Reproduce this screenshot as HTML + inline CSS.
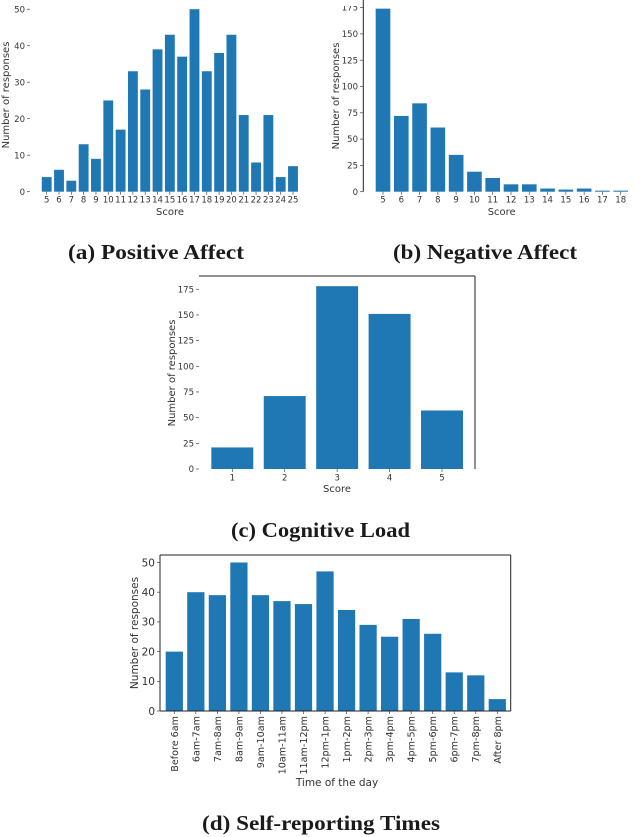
<!DOCTYPE html>
<html lang="en">
<head>
<meta charset="utf-8">
<title>Survey response histograms</title>
<style>
html,body{margin:0;padding:0;background:#fff;width:640px;height:837px;overflow:hidden}
svg{display:block;filter:blur(0.35px)}
.tick{font-family:"DejaVu Sans","Liberation Sans",sans-serif;fill:#333}
.cap{font-family:"Liberation Serif",serif;font-weight:bold;fill:#1a1a1a;text-anchor:middle}
</style>
</head>
<body>
<svg id="root" xmlns="http://www.w3.org/2000/svg" width="640" height="837" viewBox="0 0 640 837">
<defs>
<clipPath id="top-label-clip"><rect x="0" y="6" width="640" height="831"></rect></clipPath>
</defs>
<text class="cap" x="156" y="259" font-size="21" textLength="176" lengthAdjust="spacingAndGlyphs">(a) Positive Affect</text>
<text class="cap" x="485" y="259" font-size="21" textLength="184" lengthAdjust="spacingAndGlyphs">(b) Negative Affect</text>
<text class="cap" x="320.5" y="537" font-size="21" textLength="179" lengthAdjust="spacingAndGlyphs">(c) Cognitive Load</text>
<text class="cap" x="321" y="830" font-size="21" textLength="238" lengthAdjust="spacingAndGlyphs">(d) Self-reporting Times</text>
</svg>
<script>
var positiveCategories = ["5","6","7","8","9","10","11","12","13","14","15","16","17","18","19","20","21","22","23","24","25"];
var positiveValues = [4,6,3,13,9,25,17,33,28,39,43,37,50,33,38,43,21,8,21,4,7];
var positiveTicks = [0,10,20,30,40,50];

var negativeCategories = ["5","6","7","8","9","10","11","12","13","14","15","16","17","18"];
var negativeValues = [174,72,84,61,35,19,13,7,7,3,2,3,1,1];
var negativeTicks = [0,25,50,75,100,125,150,175];

var cognitiveCategories = ["1","2","3","4","5"];
var cognitiveValues = [21,71,178,151,57];
var cognitiveTicks = [0,25,50,75,100,125,150,175];

var timeCategories = ["Before 6am","6am-7am","7am-8am","8am-9am","9am-10am","10am-11am","11am-12pm","12pm-1pm","1pm-2pm","2pm-3pm","3pm-4pm","4pm-5pm","5pm-6pm","6pm-7pm","7pm-8pm","After 8pm"];
var timeValues = [20,40,39,50,39,37,36,47,34,29,25,31,26,13,12,4];
var timeTicks = [0,10,20,30,40,50];

var NS = "http://www.w3.org/2000/svg";
var root = document.getElementById("root");

function mk(parent, tag, attrs, text) {
  var el = document.createElementNS(NS, tag);
  for (var k in attrs) el.setAttribute(k, attrs[k]);
  if (text !== undefined) el.textContent = text;
  parent.appendChild(el);
  return el;
}

function drawChart(o) {
  var g = mk(root, "g", {});
  
  

  var labels = mk(g, "g", o.clipTop ? {"clip-path": "url(#top-label-clip)"} : {});
  
  

  var step = (o.lastX - o.firstX) / (o.categories.length - 1);
  var barW = step * 0.8;
  function xScale(i) { return o.firstX + i * step; }
  function yScale(v) { return o.baseY - v * o.pxPerUnit; }

  o.values.forEach(function (v, i) {
    var bar = mk(g, "rect", {x: xScale(i) - barW / 2, y: yScale(v), width: barW, height: o.baseY - yScale(v), fill: "#1f77b4"});
    
    
  });

  o.ticks.forEach(function (t) {
    var tick = mk(g, "line", {x1: o.tickX - 3, x2: o.tickX, y1: yScale(t), y2: yScale(t), stroke: "#444", "stroke-width": 0.7});
    
    
    var lab = mk(labels, "text", {"class": "tick", x: o.tickX - 5, y: yScale(t) + o.yFont * 0.36, "font-size": o.yFont, "text-anchor": "end"}, String(t));
    
    
  });

  o.categories.forEach(function (c, i) {
    var x = xScale(i);
    var tick = mk(g, "line", {x1: x, x2: x, y1: o.baseY, y2: o.baseY + 3, stroke: "#444", "stroke-width": 0.7});
    
    
    var lab;
    if (o.rotate) {
      lab = mk(g, "text", {"class": "tick", transform: "translate(" + (x + o.xFont * 0.36) + "," + (o.baseY + 5) + ") rotate(-90)", "font-size": o.xFont, "text-anchor": "end"}, c);
    } else {
      lab = mk(g, "text", {"class": "tick", x: x, y: o.baseY + o.xLabelDy, "font-size": o.xFont, "text-anchor": "middle"}, c);
    }
    
    
  });

  o.spines.forEach(function (s) {
    var sp = mk(g, "line", {x1: s[0], y1: s[1], x2: s[2], y2: s[3], stroke: "#222", "stroke-width": 1});
    
    
  });

  var xt = mk(g, "text", {"class": "tick", x: o.xTitleX, y: o.xTitleY, "font-size": o.titleFont, "text-anchor": "middle"}, o.xTitle);
  
  
  var yt = mk(g, "text", {"class": "tick", transform: "translate(" + o.yTitleX + "," + o.yTitleY + ") rotate(-90)", "font-size": o.titleFont, "text-anchor": "middle"}, "Number of responses");
  
  
}

drawChart({name: "positive-affect-chart", categories: positiveCategories, values: positiveValues, ticks: positiveTicks, clipTop: true,
  firstX: 46.7, lastX: 293, baseY: 191.7, pxPerUnit: 3.65, tickX: 30, yFont: 8.5, xFont: 8.5, xLabelDy: 11,
  spines: [], xTitle: "Score", xTitleX: 170, xTitleY: 215, titleFont: 10, yTitleX: 9, yTitleY: 95});

drawChart({name: "negative-affect-chart", categories: negativeCategories, values: negativeValues, ticks: negativeTicks, clipTop: true,
  firstX: 383, lastX: 620.7, baseY: 191.7, pxPerUnit: 1.052, tickX: 363, yFont: 8.5, xFont: 8.5, xLabelDy: 11,
  spines: [[363.3, 0, 363.3, 191.7]], xTitle: "Score", xTitleX: 501.7, xTitleY: 215, titleFont: 10, yTitleX: 339, yTitleY: 96});

drawChart({name: "cognitive-load-chart", categories: cognitiveCategories, values: cognitiveValues, ticks: cognitiveTicks,
  firstX: 232.3, lastX: 442, baseY: 469, pxPerUnit: 1.027, tickX: 199, yFont: 8.5, xFont: 8.5, xLabelDy: 11.5,
  spines: [[199, 276, 475, 276], [475, 276, 475, 469]], xTitle: "Score", xTitleX: 337, xTitleY: 492, titleFont: 10, yTitleX: 175, yTitleY: 373});

drawChart({name: "self-reporting-times-chart", categories: timeCategories, values: timeValues, ticks: timeTicks,
  firstX: 174.3, lastX: 497.3, baseY: 711, pxPerUnit: 2.97, tickX: 160, yFont: 10.5, xFont: 9.6, xLabelDy: 0, rotate: true,
  spines: [[160, 555, 510.7, 555], [510.7, 555, 510.7, 711], [510.7, 711, 160, 711], [160, 711, 160, 555]],
  xTitle: "Time of the day", xTitleX: 337, xTitleY: 786, titleFont: 10.5, yTitleX: 138, yTitleY: 633});
</script>
</body>
</html>
